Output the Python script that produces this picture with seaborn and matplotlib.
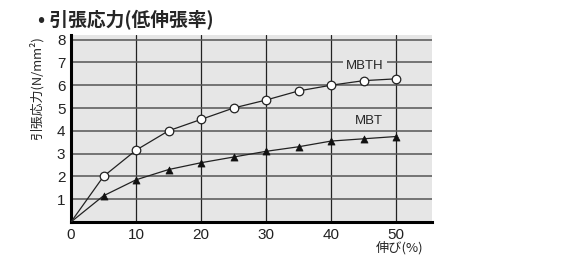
import matplotlib
matplotlib.use('Agg')
import matplotlib.pyplot as plt
import seaborn as sns
import pandas as pd

elong = [0, 5, 10, 15, 20, 25, 30, 35, 40, 45, 50]
mbth = [0, 2.0, 3.15, 4.0, 4.5, 5.0, 5.35, 5.75, 6.0, 6.2, 6.28]
mbt = [0, 1.15, 1.85, 2.3, 2.6, 2.85, 3.1, 3.3, 3.55, 3.65, 3.75]
xticks = [0, 10, 20, 30, 40, 50]
yticks = [1, 2, 3, 4, 5, 6, 7, 8]

sns.set_style('white')
plt.rcParams['font.family'] = ['Liberation Sans', 'Noto Sans CJK JP', 'DejaVu Sans']

df = pd.DataFrame({'x': elong, 'MBTH': mbth, 'MBT': mbt})

fig = plt.figure(figsize=(5.79, 2.62), dpi=100)
ax = fig.add_axes([0.1226, 0.1527, 0.6234, 0.7135])
ax.set_facecolor('#e6e6e6')

# lines
sns.lineplot(data=df, x='x', y='MBTH', ax=ax, color='#222222', lw=0.9, zorder=3)
sns.lineplot(data=df, x='x', y='MBT', ax=ax, color='#222222', lw=0.9, zorder=3)
# markers (skip origin)
sns.scatterplot(data=df[df.x > 0], x='x', y='MBTH', ax=ax, marker='o', s=38,
                facecolor='white', edgecolor='#222222', linewidth=0.9, zorder=4)
sns.scatterplot(data=df[df.x > 0], x='x', y='MBT', ax=ax, marker='^', s=26,
                color='#111111', edgecolor='#111111', linewidth=0.5, zorder=4)

ax.set_xlim(0, 55.5)
ax.set_ylim(0, 8.2)
ax.set_xticks(xticks)
ax.set_yticks(yticks)
ax.grid(True, axis='x', color='#222222', lw=0.9)
ax.grid(True, axis='y', color='#555555', lw=1.1)
ax.set_axisbelow(True)
for s in ['top', 'right']:
    ax.spines[s].set_visible(False)
ax.spines['left'].set_linewidth(2.2)
ax.spines['bottom'].set_linewidth(2.2)
ax.spines['left'].set_color('black')
ax.spines['bottom'].set_color('black')
ax.tick_params(length=0, labelsize=11, pad=4, labelcolor='#222222')
ax.set_xlabel('')
ax.set_ylabel('')

ax.text(45.2, 6.85, 'MBTH', ha='center', va='center', fontsize=9.5, zorder=5,
        bbox=dict(facecolor='#e6e6e6', edgecolor='none', pad=2))
ax.text(45.8, 4.45, 'MBT', ha='center', va='center', fontsize=9.5, zorder=5)

fig.text(0.066, 0.925, '• 引張応力(低伸張率)', fontsize=13.5, fontweight='bold',
         family=['Noto Sans CJK JP', 'DejaVu Sans'], va='center', ha='left')
fig.text(0.063, 0.664, '引張応力(N/mm²)', rotation=90, fontsize=9.3,
         family=['Noto Sans CJK JP', 'DejaVu Sans'], va='center', ha='center')
fig.text(0.691, 0.053, '伸び(%)', fontsize=9.5,
         family=['Noto Sans CJK JP', 'DejaVu Sans'], va='center', ha='center')

fig.savefig('out.png', dpi=100)
